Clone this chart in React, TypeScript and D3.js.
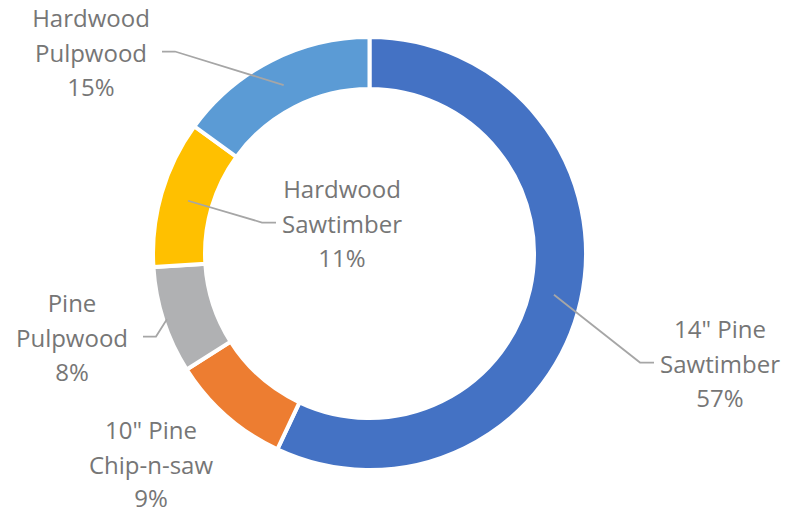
import * as d3 from 'd3';
import React, { useEffect, useRef } from 'react';

const categories = [
  '14" Pine Sawtimber',
  '10" Pine Chip-n-saw',
  'Pine Pulpwood',
  'Hardwood Sawtimber',
  'Hardwood Pulpwood',
];
const shares = [57, 9, 8, 11, 15];
const labelLines = [
  ['14" Pine', 'Sawtimber'],
  ['10" Pine', 'Chip-n-saw'],
  ['Pine', 'Pulpwood'],
  ['Hardwood', 'Sawtimber'],
  ['Hardwood', 'Pulpwood'],
];
const colors = ['#4472C4', '#ED7D31', '#B0B1B3', '#FFC000', '#5B9BD5'];

// label layout: text block centre (x, first baseline), elbow side, leader end radius
const labelLayout = [
  { x: 720, y: 338, elbow: 'left', leaderR: 189 },
  { x: 151, y: 439, elbow: 'none', leaderR: 189 },
  { x: 72, y: 312, elbow: 'right', leaderR: 213 },
  { x: 342, y: 198, elbow: 'left', leaderR: 189 },
  { x: 91, y: 27, elbow: 'right', leaderR: 189 },
];

const WIDTH = 799;
const HEIGHT = 514;

const App: React.FC = () => {
  const svgRef = useRef<SVGSVGElement>(null);

  useEffect(() => {
    if (!svgRef.current) { return; }
    const svg = d3.select(svgRef.current);
    svg.selectAll('*').remove();

    const cx = 369.5;
    const cy = 253.5;
    const outerR = 216.5;
    const innerR = 164.5;
    const lineH = 34.5;

    const pie = d3.pie<number>().sort(null).value(v => v);
    const arcs = pie(shares);
    const arc = d3.arc<d3.PieArcDatum<number>>()
      .innerRadius(innerR)
      .outerRadius(outerR);

    const chart = svg.append('g')
      .attr('transform', `translate(${cx},${cy})`);

    chart.selectAll('path.slice')
      .data(arcs)
      .enter().append('path')
      .attr('class', 'slice')
      .attr('d', arc)
      .attr('fill', (_, i) => colors[i])
      .attr('stroke', 'white')
      .attr('stroke-width', 4);

    // leader lines
    arcs.forEach((a, i) => {
      const lay = labelLayout[i];
      if (lay.elbow === 'none') { return; }
      const mid = (a.startAngle + a.endAngle) / 2;
      const ex = cx + lay.leaderR * Math.sin(mid);
      const ey = cy - lay.leaderR * Math.cos(mid);
      const textHalf = 62;
      const midY = lay.y + lineH - 10;
      let pts: [number, number][];
      if (lay.elbow === 'left') {
        const hx = lay.x - textHalf - 4;
        pts = [[hx, midY], [hx - 14, midY], [ex, ey]];
      } else {
        const hx = lay.x + textHalf + 9;
        pts = [[hx, midY], [hx + 13, midY], [ex, ey]];
      }
      svg.append('path')
        .attr('d', d3.line()(pts))
        .attr('fill', 'none')
        .attr('stroke', '#A6A6A6')
        .attr('stroke-width', 1.75);
    });

    // labels
    arcs.forEach((a, i) => {
      const lay = labelLayout[i];
      const lines = [...labelLines[i], `${a.data}%`];
      const lastY = Math.min(lay.y + (lines.length - 1) * lineH, HEIGHT - 7);
      const text = svg.append('text')
        .attr('text-anchor', 'middle')
        .attr('font-family', '"Open Sans", "Noto Sans", sans-serif')
        .attr('font-size', 24)
        .attr('fill', '#767676');
      lines.forEach((ln, j) => {
        const y = j === lines.length - 1 ? lastY : lay.y + j * lineH;
        text.append('tspan')
          .attr('x', lay.x)
          .attr('y', y)
          .text(ln);
      });
      text.append('title').text(categories[i]);
    });
  }, []);

  return (
    <div style={{ position: 'fixed', left: 0, top: 0, width: WIDTH, height: HEIGHT, background: 'white' }}>
      <svg ref={svgRef} width={WIDTH} height={HEIGHT} />
    </div>
  );
};

export default App;
